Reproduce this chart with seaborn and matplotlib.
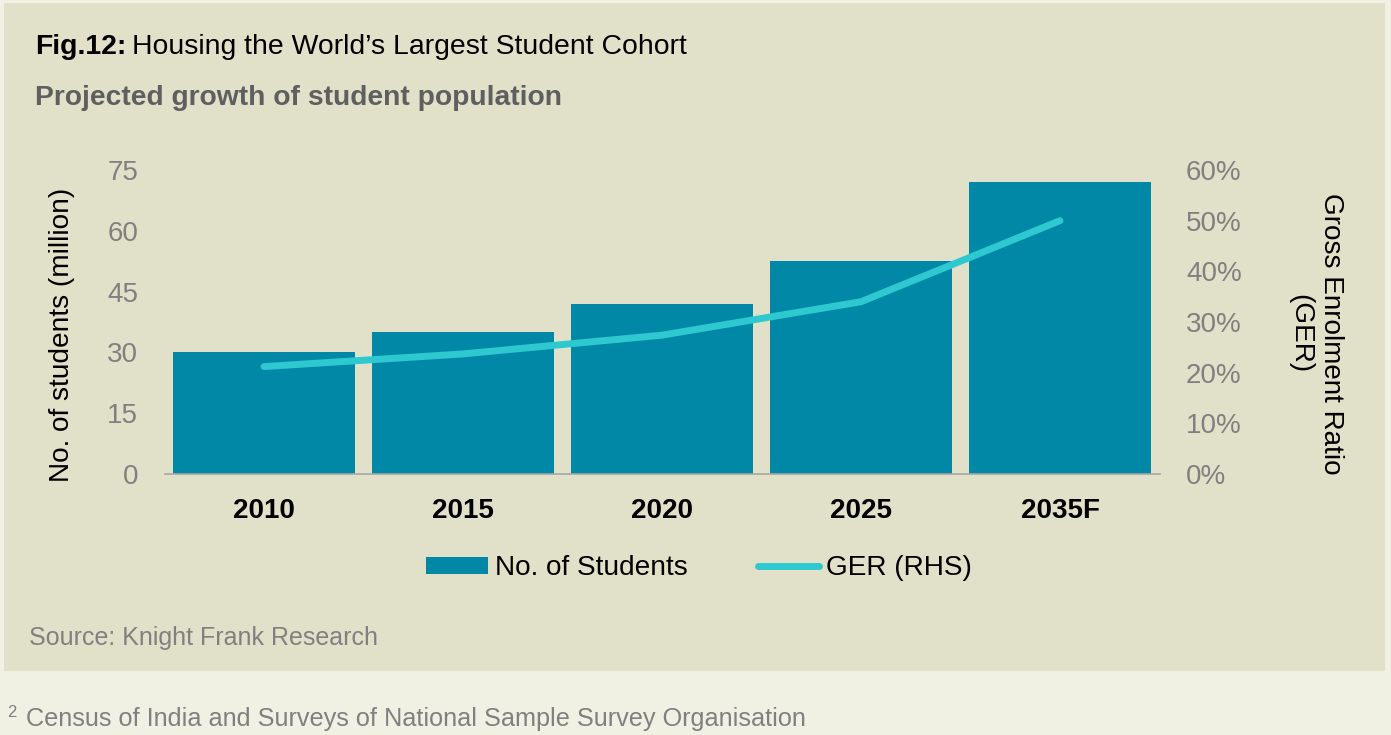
import numpy as np
import pandas as pd
import matplotlib
matplotlib.use("Agg")
import matplotlib.pyplot as plt
from matplotlib.patches import Rectangle, Patch
from matplotlib.lines import Line2D
import seaborn as sns

years = ["2010", "2015", "2020", "2025", "2035F"]
students = [30, 35, 42, 52.5, 72]          # million
ger = [21.2, 23.7, 27.4, 34.0, 50.0]       # percent
left_ticks = [0, 15, 30, 45, 60, 75]
right_ticks = [0, 10, 20, 30, 40, 50, 60]

BAR = "#0088a6"
LINE = "#2ec8d0"
PANEL = "#e1e1c9"
OUTER = "#f0f0e3"
GREY = "#808080"

sns.set_theme(style="white")
plt.rcParams["font.family"] = ["Liberation Sans", "DejaVu Sans"]

fig = plt.figure(figsize=(13.91, 7.35), dpi=100)
fig.patch.set_facecolor(OUTER)
fig.patches.append(Rectangle((4 / 1391, 1 - 671 / 735), (1385 - 4) / 1391, (671 - 3) / 735,
                             transform=fig.transFigure, facecolor=PANEL, edgecolor="none",
                             zorder=-10))

ax = fig.add_axes([164.5 / 1391, 1 - 474 / 735, 995 / 1391, 304 / 735])
ax.set_facecolor("none")
ax.set_zorder(1)
df = pd.DataFrame({"year": years, "students": students})
sns.barplot(data=df, x="year", y="students", color=BAR, saturation=1, width=0.91,
            linewidth=0, ax=ax)
ax.set_xlim(-0.5, len(years) - 0.5)
ax.set_ylim(0, 75)
ax.set_yticks(left_ticks)
ax.set_yticklabels([str(t) for t in left_ticks])
ax.set_xlabel("")
ax.set_ylabel("")
for s in ["top", "left", "right"]:
    ax.spines[s].set_visible(False)
ax.spines["bottom"].set_color("#a6a6a6")
ax.spines["bottom"].set_linewidth(1.2)
ax.tick_params(axis="y", length=0, pad=19, labelsize=20, labelcolor=GREY)
ax.tick_params(axis="x", length=0, pad=17, labelsize=20, labelcolor="black")
for lab in ax.get_xticklabels():
    lab.set_fontweight("bold")

ax2 = ax.twinx()
ax2.set_zorder(2)
ax2.set_facecolor("none")
sns.lineplot(x=np.arange(len(years)), y=ger, color=LINE, linewidth=5, ax=ax2,
             solid_capstyle="round")
ax2.set_xlim(-0.5, len(years) - 0.5)
ax2.set_ylim(0, 60)
ax2.set_yticks(right_ticks)
ax2.set_yticklabels([f"{t}%" for t in right_ticks])
ax2.set_ylabel("")
for s in ["top", "left", "right", "bottom"]:
    ax2.spines[s].set_visible(False)
ax2.tick_params(axis="y", length=0, pad=19, labelsize=20, labelcolor=GREY)

# axis titles
fig.text(62 / 1391, 1 - 335 / 735, "No. of students (million)", rotation=90,
         ha="center", va="center", fontsize=20.2, color="black")
fig.text(1316 / 1391, 1 - 334 / 735, "Gross Enrolment Ratio\n(GER)", rotation=270,
         ha="center", va="center", multialignment="center", fontsize=20.1, color="black",
         linespacing=1.25)

# legend
handles = [Patch(facecolor=BAR, edgecolor="none", label="No. of Students"),
           Line2D([0], [0], color=LINE, linewidth=5, solid_capstyle="round", label="GER (RHS)")]
leg = fig.legend(handles=handles, loc="center", bbox_to_anchor=(699 / 1391, 1 - 568 / 735),
                 ncol=2, frameon=False, fontsize=20.2, handlelength=2.2, handleheight=0.55,
                 handletextpad=0.25, columnspacing=2.5)
for t in leg.get_texts():
    t.set_color("black")

# titles
t1 = fig.text(35 / 1391, 1 - 54 / 735, "Fig.12:", fontsize=20.4, fontweight="bold",
              color="black", ha="left", va="baseline")
fig.canvas.draw()
bb = t1.get_window_extent(renderer=fig.canvas.get_renderer())
fig.text((bb.x1 + 6) / 1391, 1 - 54 / 735, "Housing the World\u2019s Largest Student Cohort",
         fontsize=20.4, color="black", ha="left", va="baseline")
fig.text(35 / 1391, 1 - 105 / 735, "Projected growth of student population", fontsize=20.3,
         fontweight="bold", color="#5f5f5f", ha="left", va="baseline")

fig.text(29 / 1391, 1 - 645 / 735, "Source: Knight Frank Research", fontsize=18,
         color=GREY, ha="left", va="baseline")
fig.text(7 / 1391, 1 - 717 / 735, "2", fontsize=12, color=GREY, ha="left", va="baseline")
fig.text(26 / 1391, 1 - 726 / 735, "Census of India and Surveys of National Sample Survey Organisation",
         fontsize=18.2, color=GREY, ha="left", va="baseline")

fig.savefig("out.png", dpi=100, facecolor=OUTER)
